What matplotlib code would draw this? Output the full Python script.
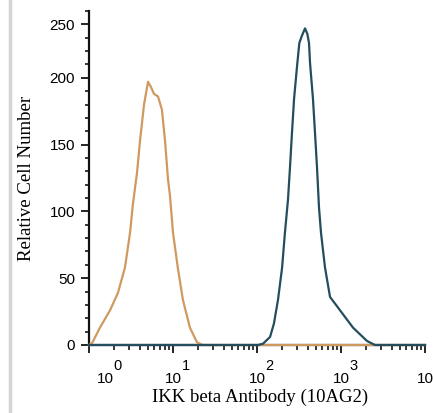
import matplotlib
matplotlib.use('Agg')
import matplotlib.pyplot as plt
import matplotlib.transforms as mtransforms
from matplotlib.lines import Line2D

# ---- data ----
isotype_x = [1.0, 1.09, 1.35, 1.78, 2.21, 2.68, 3.08, 3.34, 3.73, 4.05, 4.52,
             5.04, 5.47, 5.94, 6.63, 7.39, 8.03, 8.72, 9.2, 10.0, 11.4, 13.1,
             15.9, 19.3, 22.7, 10000]
isotype_y = [0, 1.5, 13, 26, 39, 58, 84, 106, 129, 153, 180,
             197, 193, 188, 186, 176, 153, 124, 112, 84, 58, 34,
             13, 2, 0, 0]

antibody_x = [1.0, 102.8, 118, 143, 159, 178, 199, 215, 234, 247, 261, 276,
              299, 319, 340, 373, 397, 416, 428, 464, 490, 518, 547, 578,
              645, 740, 973, 1390, 2040, 2540, 10000]
antibody_y = [0, 0, 1, 6, 16, 34, 58, 84, 109, 133, 159, 184,
              208, 226, 231, 237, 233, 226, 211, 184, 159, 133, 103, 84,
              58, 36, 26, 13, 3, 0, 0]

ytick_pos = [0, 50, 100, 150, 200, 240]
ytick_labels = ['0', '50', '100', '150', '200', '250']
xdecades = [0, 1, 2, 3, 4]

orange = '#cf9a60'
teal = '#244d5d'

fig = plt.figure(figsize=(4.33, 4.13), dpi=100)
ax = fig.add_axes([89/433, 68/413, 336/433, 334/413])

ax.plot(isotype_x, isotype_y, color=orange, lw=1.6, solid_joinstyle='round', zorder=3, clip_on=False)
ax.plot(antibody_x, antibody_y, color=teal, lw=1.6, solid_joinstyle='round', zorder=4, clip_on=False)

ax.set_xscale('log')
ax.set_xlim(1, 1e4)
ax.set_ylim(0, 250)

for s in ['top', 'right']:
    ax.spines[s].set_visible(False)
for s in ['left', 'bottom']:
    ax.spines[s].set_linewidth(1.6)
    ax.spines[s].set_color('#111111')
ax.spines['bottom'].set_color('#1d3440')

ax.set_yticks(ytick_pos)
ax.set_yticklabels(ytick_labels, family='Liberation Sans', fontsize=11)
ax.set_yticks([v for v in range(0, 251, 10) if v not in ytick_pos], minor=True)
ax.tick_params(axis='y', which='major', length=5.5, width=1.2, pad=4.5, direction='out')
ax.tick_params(axis='y', which='minor', length=3, width=1.1, direction='out')

ax.set_xticks([10**k for k in xdecades])
ax.set_xticklabels([''] * len(xdecades))
ax.tick_params(axis='x', which='major', length=6, width=1.2, direction='out')
ax.tick_params(axis='x', which='minor', length=3.5, width=1.1, direction='out')

trans = mtransforms.blended_transform_factory(ax.transData, ax.transAxes)
for k in xdecades:
    dx = 16 if k == 0 else 0
    t1 = mtransforms.offset_copy(trans, fig=fig, x=dx, y=-38, units='dots')
    ax.text(10**k, 0, '10', transform=t1, ha='center', va='baseline',
            family='Liberation Sans', fontsize=11, clip_on=False)
    t2 = mtransforms.offset_copy(trans, fig=fig, x=dx + 8.5, y=-25, units='dots')
    ax.text(10**k, 0, str(k), transform=t2, ha='left', va='baseline',
            family='Liberation Sans', fontsize=10.5, clip_on=False)

ax.set_xlabel('IKK beta Antibody (10AG2)', family='Liberation Serif', fontsize=13.5)
ax.xaxis.set_label_coords(0.51, -0.132)
ax.set_ylabel('Relative Cell Number', family='Liberation Serif', fontsize=13.5)
ax.yaxis.set_label_coords(-0.16, 0.5)

fig.add_artist(Line2D([10/433, 10/433], [0, 1], transform=fig.transFigure,
                      color='#d4d4d4', lw=2.5))

fig.savefig('out.png', dpi=100)
